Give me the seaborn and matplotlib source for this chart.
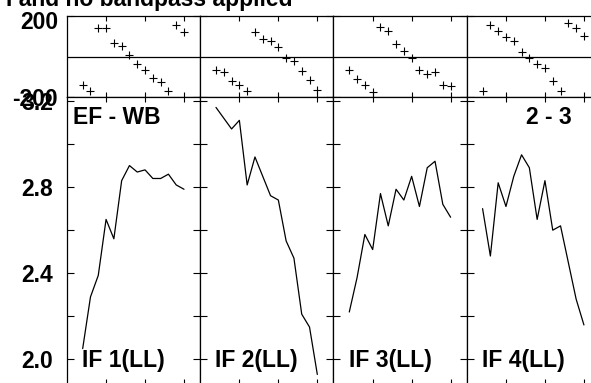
import numpy as np
import pandas as pd
import matplotlib
matplotlib.use("Agg")
import matplotlib.pyplot as plt
import matplotlib.transforms as mtransforms
import seaborn as sns

W, H = 591, 383

panel_names = ["IF 1(LL)", "IF 2(LL)", "IF 3(LL)", "IF 4(LL)"]
samples = list(range(14))

# phase (degrees)
phase_if1 = [-142, -167, 139, 139, 67, 52, 5, -39, -65, -104, -126, -167, 152, 119]
phase_if2 = [-65, -78, -118, -142, -167, 119, 85, 77, 49, -7, -24, -72, -114, -162]
phase_if3 = [-64, -109, -139, -175, 147, 127, 59, 26, -8, -64, -88, -77, -139, -145]
phase_if4 = [-170, 152, 124, 95, 75, 21, -5, -39, -56, -118, -170, 163, 140, 101]

# amplitude
amp_if1 = [2.05, 2.29, 2.39, 2.65, 2.56, 2.83, 2.90, 2.87, 2.88, 2.84, 2.84, 2.86, 2.81, 2.79]
amp_if2 = [3.17, 3.12, 3.07, 3.11, 2.81, 2.94, 2.85, 2.76, 2.74, 2.55, 2.47, 2.21, 2.15, 1.93]
amp_if3 = [2.22, 2.38, 2.58, 2.51, 2.77, 2.62, 2.79, 2.74, 2.85, 2.71, 2.89, 2.92, 2.72, 2.66]
amp_if4 = [2.70, 2.48, 2.82, 2.71, 2.85, 2.95, 2.89, 2.65, 2.83, 2.60, 2.62, 2.45, 2.28, 2.16]

phases = [phase_if1, phase_if2, phase_if3, phase_if4]
amps = [amp_if1, amp_if2, amp_if3, amp_if4]

rows = []
for name, ph, am in zip(panel_names, phases, amps):
    for s, p, a in zip(samples, ph, am):
        rows.append({"IF": name, "sample": s, "phase": p, "amp": a})
data = pd.DataFrame(rows)

sns.set_theme(style="ticks")
plt.rcParams["font.family"] = ["Liberation Sans", "DejaVu Sans"]
plt.rcParams["font.weight"] = "bold"
plt.rcParams["axes.unicode_minus"] = False

FS = 16.5

fig = plt.figure(figsize=(W / 100, H / 100), dpi=100)


def px_box(left, top, right, bottom):
    return [left / W, 1 - bottom / H, (right - left) / W, (bottom - top) / H]


def style_axes(ax):
    for sp in ax.spines.values():
        sp.set_color("black")
        sp.set_linewidth(0.9)
    ax.set_xlim(-2.05, 15.05)
    ax.set_xticks([3, 8, 13])
    ax.set_xticklabels([])
    ax.set_xlabel("")
    ax.set_ylabel("")
    ax.tick_params(axis="x", which="both", direction="in", top=True, bottom=True,
                   length=3.5, width=0.8, color="black")
    ax.tick_params(axis="y", which="both", direction="in", left=True, right=True,
                   length=5, width=0.8, color="black", labelsize=FS, labelcolor="black")


panel_w = 133.3
for i, name in enumerate(panel_names):
    sub = data[data["IF"] == name]
    left = 66.7 + i * panel_w
    right = left + panel_w

    axp = fig.add_axes(px_box(left, 15.7, right, 97.3))
    axa = fig.add_axes(px_box(left, 97.3, right, 383.5))

    sns.scatterplot(data=sub, x="sample", y="phase", marker="+", s=32,
                    color="black", linewidth=0.8, ax=axp, legend=False)
    axp.axhline(0, color="black", lw=0.9)
    sns.lineplot(data=sub, x="sample", y="amp", color="black", lw=0.9,
                 ax=axa, legend=False)

    style_axes(axp)
    style_axes(axa)
    axp.set_ylim(-200, 200)
    axp.set_yticks([-200, 200])
    axa.set_ylim(1.888, 3.217)
    axa.set_yticks([2.0, 2.4, 2.8, 3.2])
    axa.set_yticks([2.2, 2.6, 3.0], minor=True)

    if i == 0:
        axp.set_yticklabels(["-200", "200"])
        axp.tick_params(axis="y", pad=6.3)
        axa.set_yticklabels(["2.0", "2.4", "2.8", "3.2"])
        axa.tick_params(axis="y", pad=9.9)
        shift = mtransforms.ScaledTranslation(0, -0.04, fig.dpi_scale_trans)
        for lab in axp.get_yticklabels():
            if lab.get_text() == "200":
                lab.set_transform(lab.get_transform() + shift)
    else:
        axp.set_yticklabels([])
        axa.set_yticklabels([])

    fig.text((left + 15.3) / W, 1 - 366.5 / H, name, ha="left", va="baseline",
             fontsize=FS, fontweight="bold", color="black")

fig.text(73 / W, 1 - 124.5 / H, "EF - WB", ha="left", va="baseline",
         fontsize=FS, fontweight="bold", color="black")
fig.text(572 / W, 1 - 124.5 / H, "2 - 3", ha="right", va="baseline",
         fontsize=FS, fontweight="bold", color="black")
fig.text(293 / W, 1 - 6 / H, "I and no bandpass applied", ha="right", va="baseline",
         fontsize=FS, fontweight="bold", color="black")

fig.savefig("out.png", dpi=100)
